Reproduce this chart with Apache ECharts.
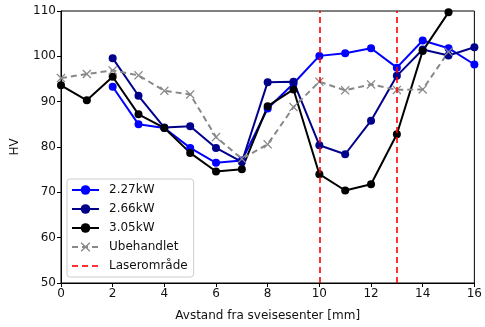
<!DOCTYPE html>
<html><head><meta charset="utf-8">
<script src="https://cdn.jsdelivr.net/npm/echarts@6/dist/echarts.min.js"></script>
<style>html,body{margin:0;padding:0;background:#fff}#c{width:485px;height:327px}</style>
</head><body><div id="c"></div>
<script>
var xs = [0,1,2,3,4,5,6,7,8,9,10,11,12,13,14,15,16];
var kw227 = [null,null,93.3,85.0,84.2,79.8,76.5,77.0,88.5,94.0,100.1,100.7,101.8,97.5,103.5,101.8,98.2];
var kw266 = [null,null,99.6,91.3,84.3,84.6,79.8,76.7,94.3,94.4,80.4,78.4,85.8,95.7,101.5,100.2,102.0];
var kw305 = [93.6,90.3,95.5,87.2,84.2,78.7,74.6,75.1,89.0,92.7,74.0,70.4,71.8,82.8,101.2,109.7,null];
var ubeh = [95.2,96.1,96.9,95.8,92.4,91.6,82.2,77.4,80.6,88.8,94.4,92.5,93.8,92.6,92.7,101.0,null];
var laserX = [10, 13];
var names = ['2.27kW','2.66kW','3.05kW','Ubehandlet','Laserområde'];

function pairs(v){ var o=[]; for(var i=0;i<xs.length;i++){ if(v[i]!==null) o.push([xs[i],v[i]]); } return o; }
var xSym = 'path://M0,1L1,0L5,4L9,0L10,1L6,5L10,9L9,10L5,6L1,10L0,9L4,5Z';
var font = 'DejaVu Sans';
var red = 'rgba(255,0,0,0.8)';
function lineSeries(name, data, color){
  return {name:name, type:'line', data:pairs(data), symbol:'circle', symbolSize:8,
    lineStyle:{color:color, width:2}, itemStyle:{color:color}, animation:false};
}
var chart = echarts.init(document.getElementById('c'), null, {renderer:'canvas'});
chart.setOption({
  animation:false,
  grid:{left:61, right:8, top:11, bottom:44, show:true, borderColor:'#000', borderWidth:1, backgroundColor:'transparent'},
  xAxis:{type:'value', min:0, max:16, interval:2,
    name:'Avstand fra sveisesenter [mm]', nameLocation:'middle', nameGap:27,
    nameTextStyle:{fontFamily:font, fontSize:12, color:'#111'},
    axisLine:{lineStyle:{color:'#000', width:1}}, axisTick:{length:4, lineStyle:{color:'#000'}},
    axisLabel:{fontFamily:font, fontSize:12, color:'#111', margin:5},
    splitLine:{show:false}},
  yAxis:{type:'value', min:50, max:110, interval:10,
    name:'HV', nameLocation:'middle', nameGap:40,
    nameTextStyle:{fontFamily:font, fontSize:12, color:'#111'},
    axisLine:{show:true, lineStyle:{color:'#000', width:1}}, axisTick:{show:true, length:4, lineStyle:{color:'#000'}},
    axisLabel:{fontFamily:font, fontSize:12, color:'#111', margin:5},
    splitLine:{show:false}},
  legend:{orient:'vertical', left:67, top:179,
    data:[names[0],names[1],names[2],names[3],{name:names[4], itemStyle:{opacity:0}}],
    backgroundColor:'#fff', borderColor:'#ccc', borderWidth:1, borderRadius:3,
    padding:[5,6,5,4], itemWidth:27, itemHeight:12, itemGap:7,
    textStyle:{fontFamily:font, fontSize:12, color:'#111', padding:[0,0,0,5]}},
  series:[
    lineSeries(names[0], kw227, '#0000ff'),
    lineSeries(names[1], kw266, '#00008b'),
    lineSeries(names[2], kw305, '#000000'),
    {name:names[3], type:'line', data:pairs(ubeh), symbol:xSym, symbolSize:9,
      lineStyle:{color:'#888', width:2, type:[6,4]}, itemStyle:{color:'#888'}},
    {name:names[4], type:'line', data:[], symbol:'none',
      lineStyle:{color:red, width:2, type:[6,4]}, itemStyle:{color:red},
      markLine:{silent:true, symbol:'none', label:{show:false},
        lineStyle:{color:red, width:2, type:[6,4]},
        data:laserX.map(function(x){return {xAxis:x};})}}
  ]
});
</script></body></html>
